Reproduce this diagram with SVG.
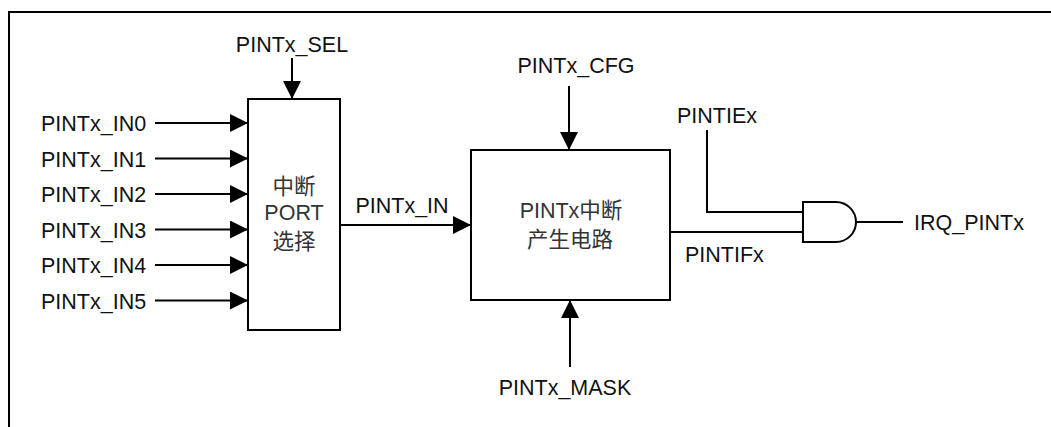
<svg xmlns="http://www.w3.org/2000/svg" width="1051" height="427" viewBox="0 0 1051 427">
<style>
.t{font-family:"Liberation Sans",Arial,sans-serif;font-size:21.5px;fill:#111}
.c{font-family:"Liberation Sans","Noto Sans CJK SC",sans-serif;font-size:21.5px;fill:#333}
.m{text-anchor:middle}
.w{fill:none;stroke:#000;stroke-width:2}
.box{fill:#fff;stroke:#000;stroke-width:2}
</style>
<defs>
<marker id="ah" markerUnits="userSpaceOnUse" markerWidth="18" markerHeight="18" viewBox="0 0 16 16" refX="16" refY="8" orient="auto">
<path d="M0,0 L16,8 L0,16 Z" fill="#000"/>
</marker>
</defs>
<path d="M9,427 V12 H1051" class="w"/>
<g id="connectors">
<line x1="155" y1="123" x2="248" y2="123" class="w" marker-end="url(#ah)"/>
<line x1="155" y1="158.5" x2="248" y2="158.5" class="w" marker-end="url(#ah)"/>
<line x1="155" y1="194" x2="248" y2="194" class="w" marker-end="url(#ah)"/>
<line x1="155" y1="229.5" x2="248" y2="229.5" class="w" marker-end="url(#ah)"/>
<line x1="155" y1="265" x2="248" y2="265" class="w" marker-end="url(#ah)"/>
<line x1="155" y1="300.5" x2="248" y2="300.5" class="w" marker-end="url(#ah)"/>
<line x1="292" y1="58" x2="292" y2="99" class="w" marker-end="url(#ah)"/>
<line x1="340" y1="225" x2="471" y2="225" class="w" marker-end="url(#ah)"/>
<line x1="569" y1="86" x2="569" y2="150" class="w" marker-end="url(#ah)"/>
<line x1="570" y1="367" x2="570" y2="300" class="w" marker-end="url(#ah)"/>
<path d="M670,232 H803" class="w"/>
<path d="M707,130 V212 H803" class="w"/>
<path d="M856,222 H903" class="w"/>
</g>
<g id="inputs">
<text x="41" y="131" class="t">PINTx_IN0</text>
<text x="41" y="166.5" class="t">PINTx_IN1</text>
<text x="41" y="202" class="t">PINTx_IN2</text>
<text x="41" y="237.5" class="t">PINTx_IN3</text>
<text x="41" y="273" class="t">PINTx_IN4</text>
<text x="41" y="308.5" class="t">PINTx_IN5</text>
</g>
<g id="sel"><text x="292" y="52" class="t m">PINTx_SEL</text></g>
<g id="port">
<rect x="248" y="99" width="92" height="231" class="box"/>
<text x="294" y="194" class="c m">中断</text>
<text x="294" y="220" class="t m" style="fill:#333">PORT</text>
<text x="294" y="249" class="c m">选择</text>
</g>
<g id="in-label"><text x="402" y="213" class="t m">PINTx_IN</text></g>
<g id="cfg"><text x="576" y="73" class="t m">PINTx_CFG</text></g>
<g id="gen">
<rect x="471" y="150" width="199" height="150" class="box"/>
<text x="571" y="218" class="c m">PINTx中断</text>
<text x="570" y="247" class="c m">产生电路</text>
</g>
<g id="mask"><text x="565" y="395" class="t m">PINTx_MASK</text></g>
<g id="ie"><text x="677" y="123" class="t">PINTIEx</text></g>
<g id="if"><text x="685" y="262" class="t">PINTIFx</text></g>
<g id="and">
<path d="M803,202 H836 A20,20 0 0 1 836,242 H803 Z" class="box"/>
</g>
<g id="irq"><text x="914" y="230" class="t">IRQ_PINTx</text></g>
</svg>
